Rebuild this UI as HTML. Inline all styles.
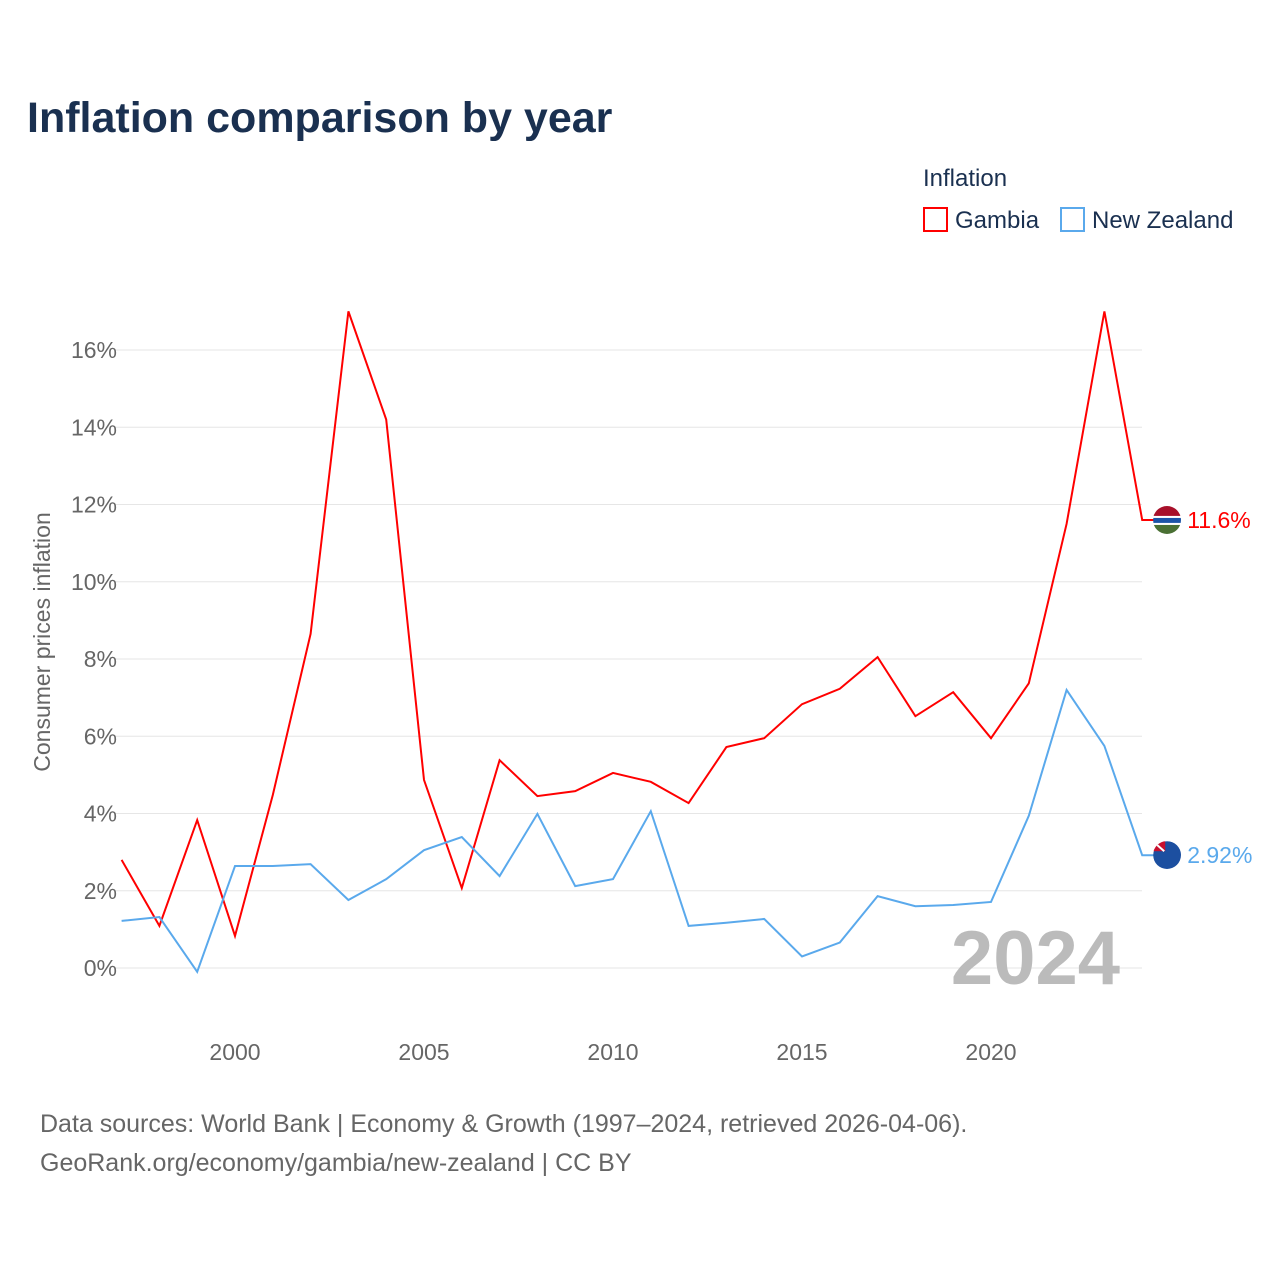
<!DOCTYPE html>
<html><head><meta charset="utf-8"><style>
body{margin:0;background:#fff;font-family:"Liberation Sans",sans-serif}
</style></head><body>
<svg id="c" width="1280" height="1280" xmlns="http://www.w3.org/2000/svg" style="font-family:'Liberation Sans',sans-serif">
<defs>
<clipPath id="gclip"><circle cx="1167" cy="520" r="14"/></clipPath>
<clipPath id="nclip"><circle cx="1167" cy="855" r="14"/></clipPath>
</defs>
<text x="27" y="132" font-size="43" font-weight="bold" fill="#1a3050">Inflation comparison by year</text>
<text x="923" y="186" font-size="24" fill="#1a3050">Inflation</text>
<g><rect x="924" y="208" width="23" height="23" fill="none" stroke="#ff0000" stroke-width="2"/><text x="955" y="228" font-size="24" fill="#1a3050">Gambia</text></g>
<g><rect x="1061" y="208" width="23" height="23" fill="none" stroke="#5aa9ec" stroke-width="2"/><text x="1092" y="228" font-size="24" fill="#1a3050">New Zealand</text></g>
<g id="grid"></g><g id="lines"></g>
<text transform="translate(50,642) rotate(-90)" text-anchor="middle" font-size="23" fill="#666">Consumer prices inflation</text>
<text x="1120" y="984" text-anchor="end" font-size="76" font-weight="bold" fill="#bbb">2024</text>
<text x="40" y="1132" font-size="25" fill="#666">Data sources: World Bank | Economy &amp; Growth (1997–2024, retrieved 2026-04-06).</text>
<text x="40" y="1171" font-size="25" fill="#666">GeoRank.org/economy/gambia/new-zealand | CC BY</text>
</svg>
<script>
const years=[1997,1998,1999,2000,2001,2002,2003,2004,2005,2006,2007,2008,2009,2010,2011,2012,2013,2014,2015,2016,2017,2018,2019,2020,2021,2022,2023,2024];
const gambia=[2.8,1.09,3.83,0.83,4.48,8.65,17.0,14.2,4.87,2.07,5.38,4.45,4.58,5.05,4.82,4.27,5.72,5.95,6.83,7.23,8.05,6.52,7.14,5.95,7.37,11.5,17.0,11.6];
const nz=[1.22,1.32,-0.1,2.64,2.64,2.69,1.76,2.3,3.05,3.39,2.38,3.99,2.12,2.3,4.06,1.09,1.17,1.27,0.3,0.66,1.86,1.6,1.63,1.71,3.94,7.2,5.75,2.92];
const yTicks=[0,2,4,6,8,10,12,14,16];
const xTicks=[2000,2005,2010,2015,2020];
const NS="http://www.w3.org/2000/svg";
const x=v=>235+(v-2000)*37.8, y=v=>968-v*38.625;
function mk(t,a,p){const e=document.createElementNS(NS,t);for(const k in a)e.setAttribute(k,a[k]);p.appendChild(e);return e;}
const g=document.getElementById('grid'),L=document.getElementById('lines');
yTicks.forEach(t=>{const l=mk('line',{x1:115,x2:1142,y1:y(t),y2:y(t),stroke:'#e6e6e6'},g);


const tx=mk('text',{x:117,y:y(t)+8,'text-anchor':'end','font-size':23,fill:'#666'},g);tx.textContent=t+'%';

});
xTicks.forEach(t=>{const tx=mk('text',{x:x(t),y:1060,'text-anchor':'middle','font-size':23,fill:'#666'},g);tx.textContent=t;

});
function series(d,c,name,lab){const pts=d.map((v,i)=>x(years[i])+','+y(v));const last=d[d.length-1];
const cx=x(2024)+25,cy=y(last);
pts.push(cx+','+cy);
const p=mk('polyline',{points:pts.join(' '),fill:'none',stroke:c,'stroke-width':2},L);


const f=mk('g',{},L);


if(name==='gambia'){
 mk('rect',{x:cx-14,y:cy-14,width:28,height:10,fill:'#a8102a'},f);
 mk('rect',{x:cx-14,y:cy-4,width:28,height:2,fill:'#fff'},f);
 mk('rect',{x:cx-14,y:cy-2,width:28,height:5,fill:'#1c54a8'},f);
 mk('rect',{x:cx-14,y:cy+3,width:28,height:2,fill:'#fff'},f);
 mk('rect',{x:cx-14,y:cy+5,width:28,height:10,fill:'#4a7034'},f);
 f.setAttribute('clip-path','url(#gclip)');
}else{
 mk('circle',{cx:cx,cy:cy,r:14,fill:'#1c4fa0'},f);
 mk('rect',{x:cx-14,y:cy-14,width:12,height:10,fill:'#c8102e'},f);
 mk('line',{x1:cx-12,y1:cy-12,x2:cx-3,y2:cy-4,stroke:'#fff','stroke-width':2},f);
 f.setAttribute('clip-path','url(#nclip)');
}
const t=mk('text',{x:cx+20,y:cy+8,'font-size':23,fill:c},L);t.textContent=lab;

}
series(gambia,'#ff0000','gambia','11.6%');
series(nz,'#5aa9ec','new-zealand','2.92%');
</script></body></html>
